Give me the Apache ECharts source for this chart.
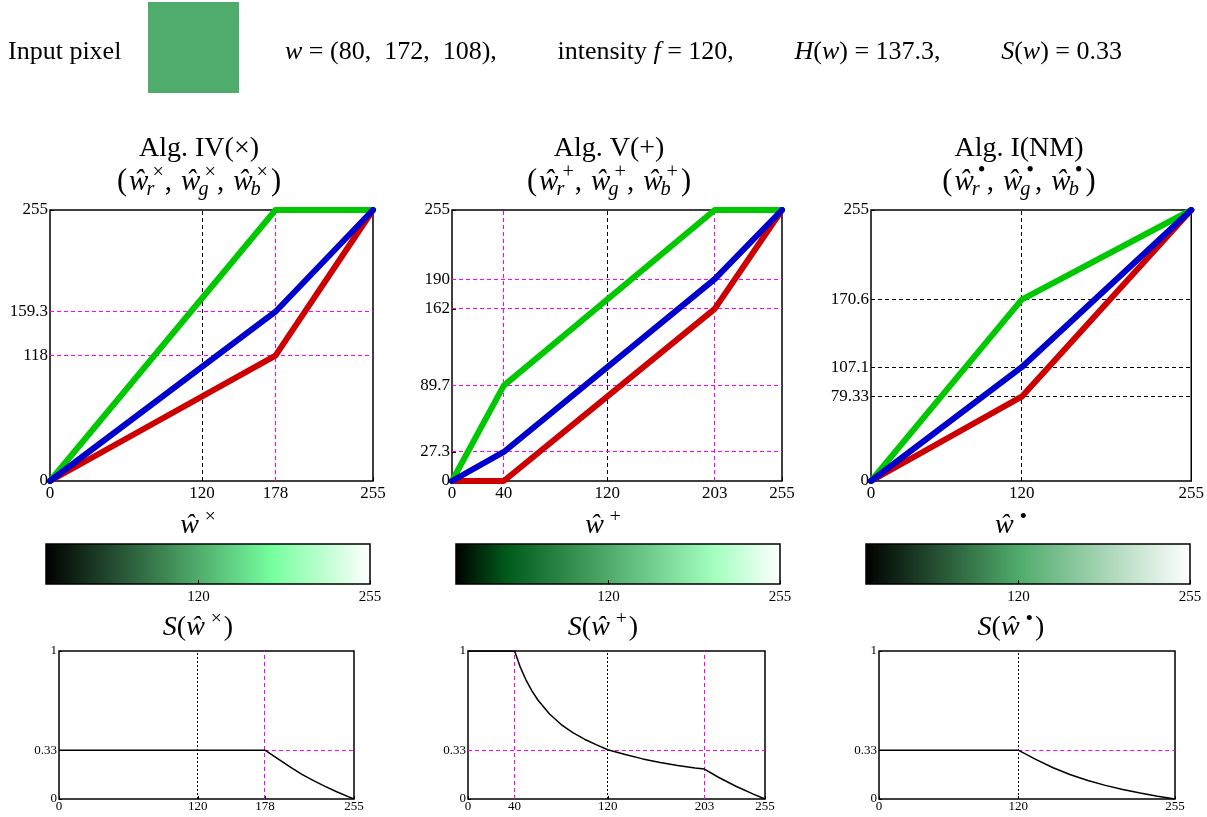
<!DOCTYPE html>
<html><head><meta charset="utf-8">
<script src="https://cdn.jsdelivr.net/npm/echarts@6/dist/echarts.min.js"></script>
<style>html,body{margin:0;padding:0;background:#fff}#c{width:1207px;height:817px}</style>
</head><body><div id="c"></div>
<script>
// ---------- data ----------
const inputPixel = [80, 172, 108];
const inputIntensity = 120;
const inputHue = 137.3;
const inputSat = 0.33;

// Alg. IV (x)
const knotsIV = [0, 178, 255];
const redIV   = [0, 118, 255];
const greenIV = [0, 255, 255];
const blueIV  = [0, 159.3, 255];
const xTicksIV = [0, 120, 178, 255];
const yTicksIV = [0, 118, 159.3, 255];
const vBlackIV = [120];
const vMagIV = [178];
const hMagIV = [118, 159.3];

// Alg. V (+)
const knotsV = [0, 40, 203, 255];
const redV   = [0, 0, 162, 255];
const greenV = [0, 89.7, 255, 255];
const blueV  = [0, 27.3, 190, 255];
const xTicksV = [0, 40, 120, 203, 255];
const yTicksV = [0, 27.3, 89.7, 162, 190, 255];
const vBlackV = [120];
const vMagV = [40, 203];
const hMagV = [27.3, 89.7, 162, 190];

// Alg. I (NM)
const knotsI = [0, 120, 255];
const redI   = [0, 79.33, 255];
const greenI = [0, 170.6, 255];
const blueI  = [0, 107.1, 255];
const xTicksI = [0, 120, 255];
const yTicksI = [0, 79.33, 107.1, 170.6, 255];
const vBlackI = [120];
const hBlackI = [79.33, 107.1, 170.6];

// colorbar ticks
const cbTicks = [120, 255];

// saturation curves
const satIVx = [0, 120, 178, 190, 200, 210, 220, 230, 240, 250, 255];
const satIVy = [0.33, 0.33, 0.33, 0.267, 0.215, 0.167, 0.124, 0.085, 0.049, 0.016, 0];
const satVx = [0, 40, 45, 50, 55, 60, 70, 80, 90, 100, 110, 120, 135, 150, 165, 180, 195, 203, 215, 230, 245, 255];
const satVy = [1, 1, 0.889, 0.801, 0.729, 0.669, 0.574, 0.503, 0.448, 0.404, 0.367, 0.333, 0.301, 0.271, 0.247, 0.227, 0.210, 0.202, 0.147, 0.086, 0.033, 0];
const satIx = [0, 120, 135, 150, 165, 180, 195, 210, 225, 240, 255];
const satIy = [0.33, 0.33, 0.268, 0.211, 0.164, 0.125, 0.092, 0.064, 0.040, 0.019, 0];
const sTicksY = [0, 0.33, 1];

// ---------- helpers ----------
const FF = '"Liberation Serif", "Times New Roman", serif';
const ctx = document.createElement('canvas').getContext('2d');
function fontStr(s, sz) { return (s === 'i' ? 'italic ' : '') + sz.toFixed(1) + 'px ' + FF; }
function measure(t, s, sz) { ctx.font = fontStr(s, sz); return ctx.measureText(t).width; }
function mathRow(x, y, align, size, items, fitWidth) {
  const layout = [];
  let cur = 0, gaps = 0;
  items.forEach(it => { if (it.gap !== undefined) gaps++; });
  const pass = (gapW) => {
    layout.length = 0; cur = 0;
    items.forEach(it => {
      if (it.gap !== undefined) { cur += (gapW !== null ? gapW : it.gap); return; }
      if (it.sub !== undefined || it.sup !== undefined) {
        const k = 0.7; let w = 0;
        if (it.sub) { const ws = measure(it.sub, 'i', size * k); layout.push({t: it.sub, s: 'i', sz: size * k, x: cur - 2, dy: size * 0.27}); w = Math.max(w, ws - 2); }
        if (it.sup) { const kk = k * (it.supK || 1); const dx = it.supDx || 0; const wp = measure(it.sup, 'n', size * kk); layout.push({t: it.sup, s: 'n', sz: size * kk, x: cur + dx, dy: -size * (it.supDy || 0.33)}); w = Math.max(w, wp + dx); }
        cur += w + 1; return;
      }
      const sz = size * (it.k || 1);
      const w = measure(it.t, it.s || 'n', sz);
      layout.push({t: it.t, s: it.s || 'n', sz, x: cur, dy: it.dy || 0});
      cur += w;
    });
  };
  pass(null);
  if (fitWidth && gaps) {
    let base = cur; items.forEach(it => { if (it.gap !== undefined) base -= it.gap; });
    pass((fitWidth - base) / gaps);
  }
  const start = align === 'center' ? x - cur / 2 : (align === 'right' ? x - cur : x);
  return layout.map(l => ({
    type: 'text', x: start + l.x, y: y + l.dy, silent: true, z: 100,
    style: {text: l.t, font: fontStr(l.s, l.sz), fill: '#000', align: 'left', verticalAlign: 'middle', textAlign: 'left', textVerticalAlign: 'middle'}
  }));
}
function pts(xs, ys) { return xs.map((x, i) => [x, ys[i]]); }
function rgb(r, g, b) { return 'rgb(' + Math.round(r) + ',' + Math.round(g) + ',' + Math.round(b) + ')'; }

// ---------- layout ----------
const topGrids = [
  {left: 50, top: 210, width: 323, height: 271},
  {left: 452, top: 210, width: 330, height: 271},
  {left: 871, top: 210, width: 322, height: 271}
];
const cbGrids = [
  {left: 46, top: 544, width: 324, height: 40},
  {left: 456, top: 544, width: 324, height: 40},
  {left: 866, top: 544, width: 324, height: 40}
];
const botGrids = [
  {left: 59, top: 651, width: 295, height: 148},
  {left: 468, top: 651, width: 297, height: 148},
  {left: 879, top: 651, width: 296, height: 148}
];
const grids = [];
topGrids.concat(cbGrids).concat(botGrids).forEach((g, i) => {
  const isCb = i >= 3 && i < 6;
  grids.push(Object.assign({show: !isCb, borderColor: '#000', borderWidth: 1.5, backgroundColor: 'transparent', containLabel: false}, g));
});

const xAxes = [], yAxes = [];
const topX = [xTicksIV, xTicksV, xTicksI];
const topY = [yTicksIV, yTicksV, yTicksI];
for (let i = 0; i < 3; i++) {
  xAxes.push({type: 'value', gridIndex: i, min: 0, max: 255, axisLine: {show: false}, splitLine: {show: false},
    axisTick: {show: true, inside: true, length: 4, customValues: topX[i], lineStyle: {color: '#000'}},
    axisLabel: {customValues: topX[i], color: '#000', fontFamily: FF, fontSize: 17, margin: 4}});
  yAxes.push({type: 'value', gridIndex: i, min: 0, max: 255, axisLine: {show: false}, splitLine: {show: false},
    axisTick: {show: true, inside: true, length: 4, customValues: topY[i], lineStyle: {color: '#000'}},
    axisLabel: {customValues: topY[i], color: '#000', fontFamily: FF, fontSize: 17, margin: 2}});
}
for (let i = 3; i < 6; i++) {
  xAxes.push({type: 'value', gridIndex: i, min: 0, max: 255, z: 10, axisLine: {show: false}, splitLine: {show: false},
    axisTick: {show: true, inside: true, length: 4, customValues: cbTicks, lineStyle: {color: '#000', width: 1}},
    axisLabel: {customValues: cbTicks, color: '#000', fontFamily: FF, fontSize: 15, margin: 6}});
  yAxes.push({type: 'value', gridIndex: i, min: 0, max: 1, show: false});
}
const botX = [xTicksIV, xTicksV, xTicksI];
for (let i = 6; i < 9; i++) {
  xAxes.push({type: 'value', gridIndex: i, min: 0, max: 255, axisLine: {show: false}, splitLine: {show: false},
    axisTick: {show: true, inside: true, length: 3, customValues: botX[i - 6], lineStyle: {color: '#000'}},
    axisLabel: {customValues: botX[i - 6], color: '#000', fontFamily: FF, fontSize: 13, margin: 1}});
  yAxes.push({type: 'value', gridIndex: i, min: 0, max: 1, axisLine: {show: false}, splitLine: {show: false},
    axisTick: {show: true, inside: true, length: 3, customValues: sTicksY, lineStyle: {color: '#000'}},
    axisLabel: {customValues: sTicksY, color: '#000', fontFamily: FF, fontSize: 13, margin: 2}});
}

const RED = '#cc0000', GREEN = '#00c800', BLUE = '#0000cc', MAG = '#ff00ff';
const series = [];
const crisp = v => Math.round(v - 0.5) + 0.5;
// reference lines as custom series: each datum [x0, y0, x1, y1]
function refSeries(idx, color, dash, segs) {
  series.push({type: 'custom', xAxisIndex: idx, yAxisIndex: idx, data: segs, z: 1, silent: true, animation: false, clip: false,
    renderItem: (params, api) => {
      const p0 = api.coord([api.value(0), api.value(1)]);
      const p1 = api.coord([api.value(2), api.value(3)]);
      let x1 = p0[0], y1 = p0[1], x2 = p1[0], y2 = p1[1];
      if (Math.abs(x1 - x2) < 0.01) { x1 = x2 = crisp(x1); }
      if (Math.abs(y1 - y2) < 0.01) { y1 = y2 = crisp(y1); }
      return {type: 'line', shape: {x1, y1, x2, y2}, style: {stroke: color, lineWidth: 1, lineDash: dash}};
    }});
}
function vl(vals, ymax) { return vals.map(v => [v, 0, v, ymax]); }
function hl(vals, x0, x1) { return vals.map(v => [x0, v, x1, v]); }

const DASH = [4, 3], DOT = [2, 2];
// top reference lines
refSeries(0, '#000', DASH, vl(vBlackIV, 255));
refSeries(0, MAG, DASH, vl(vMagIV, 255).concat(hl(hMagIV, 0, 255)));
refSeries(1, '#000', DASH, vl(vBlackV, 255));
refSeries(1, MAG, DASH, vl(vMagV, 255).concat(hl(hMagV, 0, 255)));
refSeries(2, '#000', DASH, vl(vBlackI, 255).concat(hl(hBlackI, 0, 255)));

// top curves
const curveSets = [[knotsIV, redIV, greenIV, blueIV], [knotsV, redV, greenV, blueV], [knotsI, redI, greenI, blueI]];
curveSets.forEach((cs, i) => {
  [[cs[1], RED], [cs[2], GREEN], [cs[3], BLUE]].forEach((c, j) => {
    series.push({type: 'line', xAxisIndex: i, yAxisIndex: i, data: pts(cs[0], c[0]), symbol: 'none', z: 3 + j, silent: true, animation: false,
      lineStyle: {color: c[1], width: 6, cap: 'round', join: 'round'}});
  });
});

// colorbars
curveSets.forEach((cs, i) => {
  const stops = cs[0].map((k, n) => ({offset: k / 255, color: rgb(cs[1][n], cs[2][n], cs[3][n])}));
  series.push({type: 'custom', xAxisIndex: 3 + i, yAxisIndex: 3 + i, data: [[0, 255]], z: 2, silent: true, animation: false,
    renderItem: (params, api) => {
      const p0 = api.coord([api.value(0), 1]);
      const p1 = api.coord([api.value(1), 0]);
      return {type: 'rect', shape: {x: p0[0], y: p0[1], width: p1[0] - p0[0], height: p1[1] - p0[1]},
        style: {fill: new echarts.graphic.LinearGradient(0, 0, 1, 0, stops), stroke: '#000', lineWidth: 1.5}};
    }});
});

// bottom reference lines
refSeries(6, '#000', DOT, vl(vBlackIV, 1));
refSeries(6, MAG, DASH, vl(vMagIV, 1).concat(hl([satIVy[2]], vMagIV[0], 255)));
refSeries(7, '#000', DOT, vl(vBlackV, 1));
refSeries(7, MAG, DASH, vl(vMagV, 1).concat(hl([inputSat], 0, 255)));
refSeries(8, '#000', DOT, vl(vBlackI, 1));
refSeries(8, MAG, DASH, hl([satIy[1]], vBlackI[0], 255));

// bottom curves
[[satIVx, satIVy], [satVx, satVy], [satIx, satIy]].forEach((s, i) => {
  series.push({type: 'line', xAxisIndex: 6 + i, yAxisIndex: 6 + i, data: pts(s[0], s[1]), symbol: 'none', z: 3, silent: true, animation: false,
    lineStyle: {color: '#000', width: 1.5}});
});

// ---------- text ----------
const g = [];
const S = 26;
g.push(...mathRow(8, 52, 'left', S, [{t: 'Input pixel'}]));
g.push({type: 'rect', shape: {x: 148, y: 2, width: 91, height: 91}, style: {fill: rgb(inputPixel[0], inputPixel[1], inputPixel[2])}, silent: true});
g.push(...mathRow(285, 52, 'left', S, [
  {t: 'w', s: 'i'}, {t: ' = (' + inputPixel[0] + ',  ' + inputPixel[1] + ',  ' + inputPixel[2] + '),'}, {gap: 30},
  {t: 'intensity '}, {t: 'f', s: 'i'}, {t: ' = ' + inputIntensity + ','}, {gap: 30},
  {t: 'H', s: 'i'}, {t: '('}, {t: 'w', s: 'i'}, {t: ') = ' + inputHue + ','}, {gap: 30},
  {t: 'S', s: 'i'}, {t: '('}, {t: 'w', s: 'i'}, {t: ') = ' + inputSat}
], 837));

const marks = ['×', '+', '•'];
const markK = [1, 1, 1.1];
const markDy = [0.33, 0.33, 0.36];
const titles = ['Alg. IV(×)', 'Alg. V(+)', 'Alg. I(NM)'];
const tCx = [199, 609, 1019];
const cbCx = [198, 603, 1011];
const T = 28, ST = 29;
for (let i = 0; i < 3; i++) {
  const m = marks[i];
  g.push(...mathRow(tCx[i], 149, 'center', T, [{t: titles[i]}]));
  const sup = (sub) => ({sub, sup: m, supK: markK[i], supDy: markDy[i], supDx: 4});
  g.push(...mathRow(tCx[i], 182, 'center', ST, [
    {t: '(', k: 1.05}, {gap: 2}, {t: 'ŵ', s: 'i'}, sup('r'), {t: ','}, {gap: 9}, {t: 'ŵ', s: 'i'}, sup('g'), {t: ','}, {gap: 9}, {t: 'ŵ', s: 'i'}, sup('b'), {gap: 2}, {t: ')', k: 1.05}
  ]));
  g.push(...mathRow(cbCx[i], 526, 'center', T, [{t: 'ŵ', s: 'i'}, {gap: 6}, {t: m, k: 0.7 * markK[i], dy: -T * 0.32}]));
  g.push(...mathRow(cbCx[i], 628, 'center', T, [{t: 'S', s: 'i'}, {t: '('}, {t: 'ŵ', s: 'i'}, {gap: 6}, {t: m, k: 0.7 * markK[i], dy: -T * 0.32}, {gap: 2}, {t: ')'}]));
}

const chart = echarts.init(document.getElementById('c'), null, {renderer: 'canvas'});
chart.setOption({
  animation: false,
  backgroundColor: '#fff',
  grid: grids, xAxis: xAxes, yAxis: yAxes, series: series,
  graphic: {elements: g}
});
</script></body></html>
